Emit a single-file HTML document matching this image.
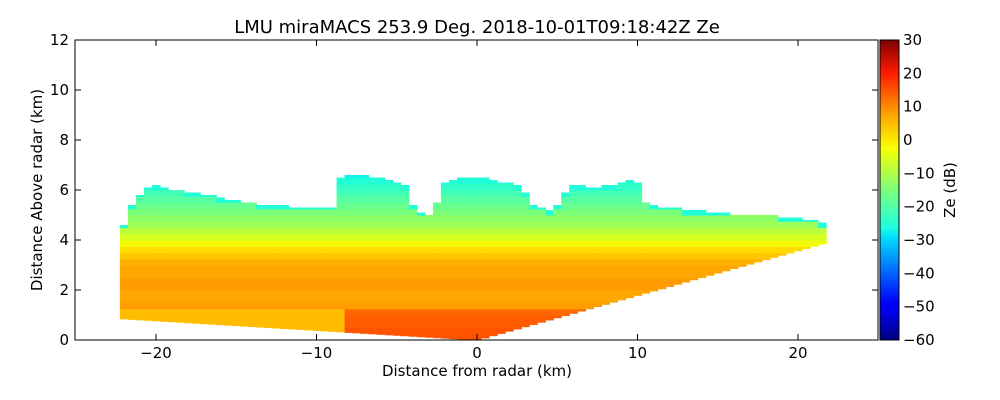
<!DOCTYPE html>
<html><head><meta charset="utf-8"><style>
body{margin:0;background:#fff;}
svg{display:block;font-family:"DejaVu Sans","Liberation Sans",sans-serif;}
</style></head><body>
<svg id="c" width="1000" height="400">
<defs>
<linearGradient id="jet" x1="0" y1="1" x2="0" y2="0">
<stop offset="0" stop-color="#00007f"/><stop offset="0.11" stop-color="#0000ff"/>
<stop offset="0.125" stop-color="#0000ff"/><stop offset="0.34" stop-color="#00dbff"/>
<stop offset="0.375" stop-color="#1cffe0"/><stop offset="0.5" stop-color="#7dff7a"/>
<stop offset="0.64" stop-color="#f9ff00"/><stop offset="0.75" stop-color="#ffa500"/>
<stop offset="0.89" stop-color="#ff1a00"/><stop offset="1" stop-color="#7f0000"/>
</linearGradient>
<clipPath id="ax"><rect x="75" y="40" width="803" height="300"/></clipPath>
</defs>
<g id="cells" clip-path="url(#ax)"></g>
<rect x="75" y="40" width="803" height="300" fill="none" stroke="#000" stroke-width="1"/>
<g id="axes"></g>
<text x="477" y="33" font-size="18" text-anchor="middle">LMU miraMACS 253.9 Deg. 2018-10-01T09:18:42Z  Ze</text>
<text x="477" y="376" font-size="15" text-anchor="middle">Distance from radar (km)</text>
<text x="0" y="0" font-size="15" text-anchor="middle" transform="translate(42,190) rotate(-90)">Distance Above radar  (km)</text>
<rect x="880" y="40" width="19" height="300" fill="url(#jet)" stroke="#000" stroke-width="1"/>
<text x="0" y="0" font-size="15" text-anchor="middle" transform="translate(955,190) rotate(-90)">Ze (dB)</text>
</svg>
<script>
// columns: range positions (km) and cloud top heights (km)
const colX=[-22,-21.5,-21,-20.5,-20,-19.5,-19,-18.5,-18,-17.5,-17,-16.5,-16,-15.5,-15,-14.5,-14,-13.5,-13,-12.5,-12,-11.5,-11,-10.5,-10,-9.5,-9,-8.5,-8,-7.5,-7,-6.5,-6,-5.5,-5,-4.5,-4,-3.5,-3,-2.5,-2,-1.5,-1,-0.5,0,0.5,1,1.5,2,2.5,3,3.5,4,4.5,5,5.5,6,6.5,7,7.5,8,8.5,9,9.5,10,10.5,11,11.5,12,12.5,13,13.5,14,14.5,15,15.5,16,16.5,17,17.5,18,18.5,19,19.5,20,20.5,21,21.5];
const colTop=[4.6,5.4,5.8,6.1,6.2,6.1,6.0,6.0,5.9,5.9,5.8,5.8,5.7,5.6,5.6,5.5,5.5,5.4,5.4,5.4,5.4,5.3,5.3,5.3,5.3,5.3,5.3,6.5,6.6,6.6,6.6,6.5,6.5,6.4,6.3,6.2,5.4,5.1,5.0,5.5,6.3,6.4,6.5,6.5,6.5,6.5,6.4,6.3,6.3,6.2,5.9,5.4,5.3,5.2,5.4,5.9,6.2,6.2,6.1,6.1,6.2,6.2,6.3,6.4,6.3,5.5,5.4,5.3,5.3,5.3,5.2,5.2,5.2,5.1,5.1,5.1,5.0,5.0,5.0,5.0,5.0,5.0,4.9,4.9,4.9,4.8,4.8,4.7];
// vertical reflectivity profile (dB) by height layer of 0.25 km
const profH=[0,0.25,0.5,0.75,1,1.25,1.5,1.75,2,2.25,2.5,2.75,3,3.25,3.5,3.75,4,4.25,4.5,4.75,5,5.25,5.5,5.75,6,6.25,6.5];
const profZ=[14,14,13,13,12,7,6,6,7,7,6,6,5,3,1,-2,-5,-8,-11,-13,-15,-17,-19,-21,-23,-25,-27];
const topZ=-25; // value at the cloud top edge
const farLowZ=4; // low-level value far from radar
// scan geometry: lowest beam heights at left/right range ends
const leftEnd=[-22,0.85], rightEnd=[21.8,3.9];

const X=v=>477+v*16.05, Y=v=>340-v*25, C=v=>340-(v+60)*300/90;
const R=[[0,0],[0.35,0],[0.66,1],[0.89,1],[1,0.5]];
const G=[[0,0],[0.125,0],[0.375,1],[0.64,1],[0.91,0],[1,0]];
const B=[[0,0.5],[0.11,1],[0.34,1],[0.65,0],[1,0]];
function seg(s,t){for(let i=1;i<s.length;i++){if(t<=s[i][0]){const a=s[i-1],b=s[i];return a[1]+(b[1]-a[1])*(t-a[0])/(b[0]-a[0]);}}return s[s.length-1][1];}
function jet(z){const t=Math.max(0,Math.min(1,(z+60)/90));
 return `rgb(${Math.round(255*seg(R,t))},${Math.round(255*seg(G,t))},${Math.round(255*seg(B,t))})`;}
const NS="http://www.w3.org/2000/svg";
const g=document.getElementById('cells');
colX.forEach((x,i)=>{
 const bot=x<0? leftEnd[1]*x/leftEnd[0] : rightEnd[1]*x/rightEnd[0];
 const top=colTop[i];
 profH.forEach((h,j)=>{
  if(h+0.25<=bot || h>=top) return;
  let z=profZ[j];
  if(top-h<0.25) z=Math.min(z,topZ);
  if(Math.abs(x)>8 && h<1.25) z=farLowZ;
  const y0=Math.max(h,bot), y1=Math.min(h+0.25,top);
  const r=document.createElementNS(NS,'rect');
  r.setAttribute('x',X(x-0.25));r.setAttribute('width',16.05*0.5+0.6);
  r.setAttribute('y',Y(y1));r.setAttribute('height',(y1-y0)*25+0.6);
  r.setAttribute('fill',jet(z));
  
  
  g.appendChild(r);
 });
});
const ax=document.getElementById('axes');
function el(tag,attrs,txt){const e=document.createElementNS(NS,tag);for(const k in attrs)e.setAttribute(k,attrs[k]);if(txt!=null)e.textContent=txt;ax.appendChild(e);return e;}
const xTicks=[-20,-10,0,10,20];
xTicks.forEach(v=>{
 el('line',{x1:X(v),x2:X(v),y1:340,y2:334,stroke:'#000'});
 el('line',{x1:X(v),x2:X(v),y1:40,y2:46,stroke:'#000'});
 const t=el('text',{x:X(v),y:358,'font-size':15,'text-anchor':'middle'},(v<0?'\u2212':'')+Math.abs(v));
 
 
});
const yTicks=[0,2,4,6,8,10,12];
yTicks.forEach(v=>{
 el('line',{x1:75,x2:81,y1:Y(v),y2:Y(v),stroke:'#000'});
 el('line',{x1:878,x2:872,y1:Y(v),y2:Y(v),stroke:'#000'});
 const t=el('text',{x:69,y:Y(v)+5,'font-size':15,'text-anchor':'end'},v);
 
 
});
const cTicks=[-60,-50,-40,-30,-20,-10,0,10,20,30];
cTicks.forEach(v=>{
 el('line',{x1:899,x2:894,y1:C(v),y2:C(v),stroke:'#000'});
 const t=el('text',{x:903,y:C(v)+5,'font-size':15},(v<0?'\u2212':'')+Math.abs(v));
 
 
});
</script>
</body></html>
